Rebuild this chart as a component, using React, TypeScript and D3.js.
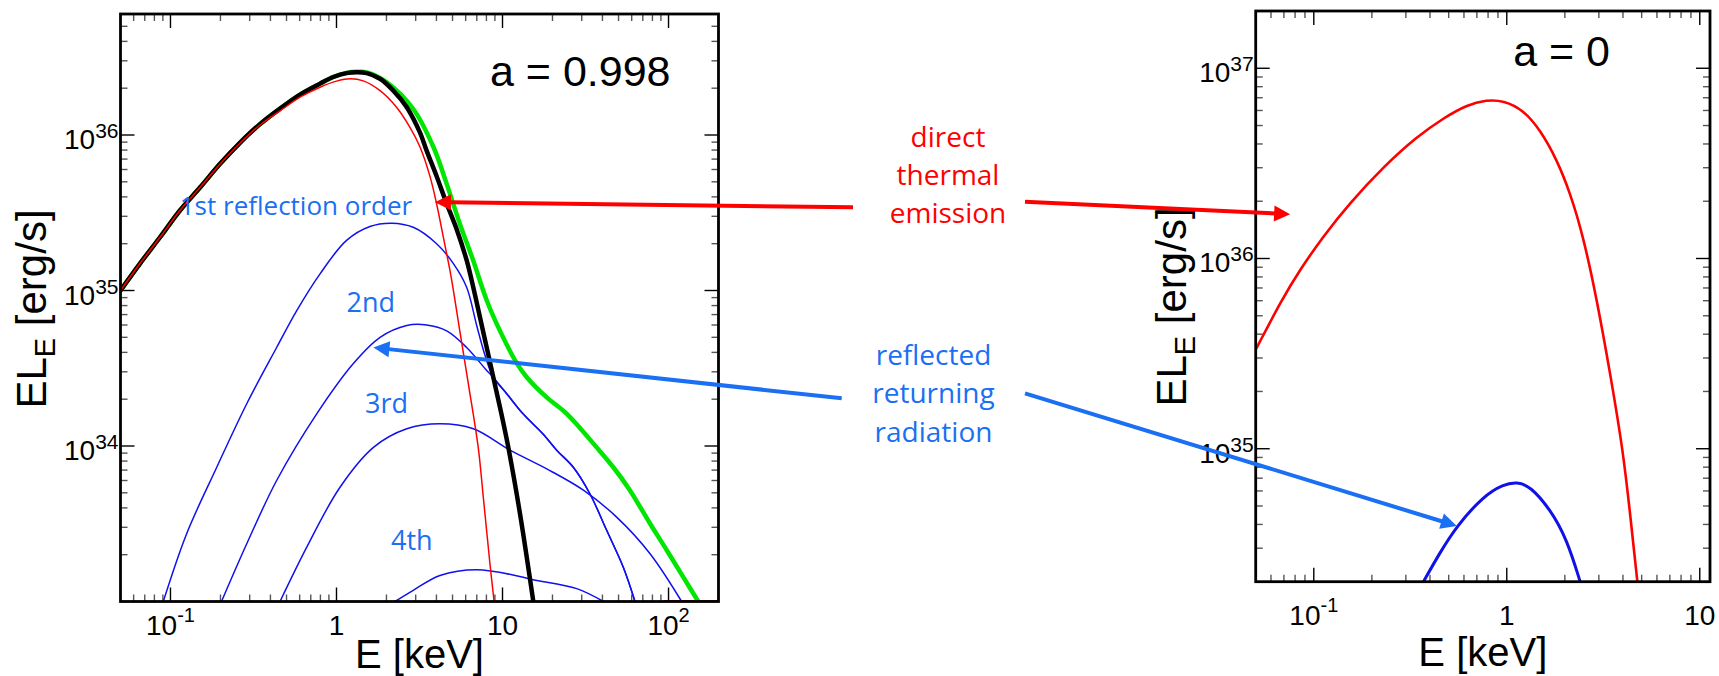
import React from 'react';
import * as d3 from 'd3';

type Pt = [number, number];

// ---------- Left panel (a = 0.998) : E [keV], EL_E [erg/s] ----------
const leftTotalWithReturn: Pt[] = [
  [0.05, 1.0e35], [0.0655, 1.49e35], [0.0865, 2.2e35], [0.114, 3.27e35], [0.151, 4.61e35],
  [0.199, 6.53e35], [0.262, 8.91e35], [0.346, 1.175e36], [0.457, 1.479e36], [0.603, 1.82e36],
  [0.796, 2.14e36], [0.957, 2.36e36], [1.15, 2.51e36], [1.32, 2.55e36], [1.52, 2.53e36],
  [2.0, 2.19e36], [2.9, 1.47e36], [3.83, 8.4e35], [4.61, 4.85e35], [5.53, 2.69e35],
  [6.66, 1.56e35], [8.05, 8.6e34], [9.66, 5.5e34], [12.2, 3.4e34], [14.0, 2.77e34],
  [18.4, 2.06e34], [24.4, 1.61e34], [36.9, 9.8e33], [46.5, 7.3e33], [58.5, 5.2e33],
  [77.5, 3.16e33], [97.8, 2.13e33], [123, 1.43e33], [151, 1.0e33],
];

const leftTotal: Pt[] = [
  [0.05, 1.0e35], [0.0655, 1.49e35], [0.0865, 2.2e35], [0.114, 3.27e35], [0.151, 4.61e35],
  [0.199, 6.53e35], [0.262, 8.91e35], [0.346, 1.175e36], [0.457, 1.479e36], [0.603, 1.82e36],
  [0.796, 2.14e36], [0.957, 2.36e36], [1.15, 2.5e36], [1.32, 2.53e36], [1.52, 2.5e36],
  [1.83, 2.3e36], [2.2, 1.93e36], [2.65, 1.51e36], [3.18, 1.04e36], [3.49, 7.94e35],
  [4.015, 5.41e35], [4.613, 3.61e35], [5.3, 2.47e35], [6.085, 1.56e35], [6.67, 1.045e35],
  [7.32, 6.7e34], [8.41, 3.44e34], [9.66, 1.77e34], [10.84, 9.8e33], [12.75, 3.66e33],
  [15.33, 1.0e33],
];

const leftDirect: Pt[] = [
  [0.05, 1.0e35], [0.0655, 1.49e35], [0.0865, 2.2e35], [0.114, 3.27e35], [0.151, 4.61e35],
  [0.199, 6.5e35], [0.262, 8.85e35], [0.346, 1.16e36], [0.457, 1.43e36], [0.603, 1.75e36],
  [0.796, 2.03e36], [1.0, 2.22e36], [1.21, 2.3e36], [1.45, 2.23e36], [1.83, 1.93e36],
  [2.3, 1.51e36], [2.77, 1.12e36], [3.18, 8.4e35], [3.66, 5.4e35], [4.01, 3.6e35],
  [4.44, 2.1e35], [4.9, 1.23e35], [5.53, 5.5e34], [6.23, 2.5e34], [7.14, 9.8e33],
  [7.66, 4.7e33], [8.4, 1.75e33], [8.9, 1.0e33],
];

const leftDirectFloor: Pt[] = [[95, 1.0e33], [200, 1.0e33]];

const leftReflection1: Pt[] = [
  [0.0905, 1.0e33], [0.125, 2.72e33], [0.19, 7.3e33], [0.288, 1.87e34], [0.436, 4.3e34],
  [0.575, 7.4e34], [0.796, 1.28e35], [1.15, 2.1e35], [1.59, 2.58e35], [2.15, 2.71e35],
  [2.9, 2.55e35], [4.01, 2.0e35], [5.06, 1.49e35], [6.08, 1.05e35], [6.99, 5.96e34],
  [7.85, 3.82e34], [8.8, 2.76e34], [10.6, 2.17e34], [13.3, 1.61e34], [17.6, 1.19e34],
  [21.2, 9.4e33], [26.7, 7.3e33], [33.6, 4.93e33], [42.4, 2.87e33], [53.4, 1.66e33],
  [62.8, 1.0e33],
];

const leftReflection2: Pt[] = [
  [0.203, 1.0e33], [0.288, 2.35e33], [0.436, 6.0e33], [0.76, 1.61e34], [1.26, 3.38e34],
  [1.83, 5.0e34], [2.65, 5.96e34], [3.49, 6.0e34], [4.61, 5.5e34], [6.08, 4.3e34],
  [8.03, 3.06e34], [8.8, 2.76e34], [10.6, 2.17e34], [13.3, 1.61e34], [17.6, 1.19e34],
  [21.2, 9.4e33], [26.7, 7.3e33], [33.6, 4.93e33], [42.4, 2.87e33], [53.4, 1.66e33],
  [62.8, 1.0e33],
];

const leftReflection3: Pt[] = [
  [0.457, 1.0e33], [0.661, 2.23e33], [1.05, 5.43e33], [1.67, 9.8e33], [2.65, 1.29e34],
  [4.2, 1.39e34], [6.67, 1.29e34], [11.1, 9.4e33], [19.3, 6.95e33], [30.7, 5.2e33],
  [48.7, 3.49e33], [77.4, 2.03e33], [120, 1.0e33],
];

const leftReflection4: Pt[] = [
  [2.25, 1.0e33], [2.9, 1.18e33], [4.2, 1.47e33], [7.0, 1.6e33], [12.7, 1.45e33],
  [15.3, 1.38e33], [28, 1.21e33], [40.5, 1.0e33],
];

// ---------- Right panel (a = 0) ----------
const rightDirect: Pt[] = [
  [0.05, 3.32e35], [0.0683, 6.08e35], [0.0849, 8.74e35], [0.112, 1.31e36], [0.154, 1.96e36],
  [0.23, 3.04e36], [0.342, 4.37e36], [0.47, 5.47e36], [0.621, 6.42e36], [0.787, 6.82e36],
  [0.96, 6.77e36], [1.22, 6.04e36], [1.49, 4.74e36], [1.82, 3.3e36], [2.13, 2.21e36],
  [2.49, 1.31e36], [2.93, 6.08e35], [3.43, 2.51e35], [4.02, 9.5e34], [4.35, 4.6e34],
  [4.75, 2.0e34],
];

const rightReflection: Pt[] = [
  [0.37, 2.0e34], [0.451, 2.85e34], [0.551, 3.93e34], [0.757, 5.64e34], [0.96, 6.5e34],
  [1.13, 6.68e34], [1.32, 6.37e34], [1.68, 4.8e34], [2.05, 3.34e34], [2.4, 2.0e34],
];

// ---------- Ticks ----------
const leftXTicks = [0.1, 1, 10, 100];
const leftXTickLabels: [string, string][] = [['10', '-1'], ['1', ''], ['10', ''], ['10', '2']];
const leftYTicks = [1e34, 1e35, 1e36];
const leftYTickLabels: [string, string][] = [['10', '34'], ['10', '35'], ['10', '36']];

const rightXTicks = [0.1, 1, 10];
const rightXTickLabels: [string, string][] = [['10', '-1'], ['1', ''], ['10', '']];
const rightYTicks = [1e35, 1e36, 1e37];
const rightYTickLabels: [string, string][] = [['10', '35'], ['10', '36'], ['10', '37']];

// ---------- Annotation anchors (data coordinates of the curves they point to) ----------
const thermalTipLeft: Pt = [3.92, 3.7e35];
const thermalTipRight: Pt = [0.0754, 1.71e36];
const returnTipLeft: Pt = [1.67, 4.3e34];
const returnTipRight: Pt = [0.551, 3.93e34];

const orderLabels = ['1st reflection order', '2nd', '3rd', '4th'];
const orderLabelPos: Pt[] = [[0.57, 3.08e35], [1.61, 7.3e34], [2.0, 1.62e34], [2.84, 2.13e33]];

const thermalText = ['direct', 'thermal', 'emission'];
const returnText = ['reflected', 'returning', 'radiation'];

// ---------- Layout ----------
const W = 1719;
const H = 676;
const leftFrame = { left: 120.5, right: 718.5, top: 14, bottom: 601.5 };
const rightFrame = { left: 1255.7, right: 1710, top: 11, bottom: 581.7 };

const AX_FONT = "'Liberation Sans', Arial, Helvetica, sans-serif";
const NOTE_FONT = "'Open Sans', 'Noto Sans', sans-serif";
const RED = '#ff0000';
const NOTE_BLUE = '#1a6ff2';

type Frame = typeof leftFrame;

function makeScales(f: Frame, xd: [number, number], yd: [number, number]) {
  const x = d3.scaleLog().domain(xd).range([f.left, f.right]);
  const y = d3.scaleLog().domain(yd).range([f.bottom, f.top]);
  return { x, y };
}

interface Series { data: Pt[]; color: string; width: number }

interface PanelProps {
  id: string;
  f: Frame;
  sx: d3.ScaleLogarithmic<number, number>;
  sy: d3.ScaleLogarithmic<number, number>;
  xTicks: number[];
  xLabels: [string, string][];
  yTicks: number[];
  yLabels: [string, string][];
  series: Series[];
  curve: d3.CurveFactory;
  xLabelBase: number;
  xTitleBase: number;
  yTitleX: number;
  yTitleCY: number;
  tag: string;
  tagRightGap: number;
  tagBase: number;
}

function isMajor(v: number) {
  const l = Math.log10(v);
  return Math.abs(l - Math.round(l)) < 1e-6;
}

function Panel(p: PanelProps) {
  const { f, sx, sy } = p;
  const line = d3
    .line<Pt>()
    .x((d) => sx(d[0]))
    .y((d) => sy(d[1]))
    .curve(p.curve);
  const xMinor = sx.ticks().filter((v) => {
    const px = sx(v);
    return px > f.left + 1 && px < f.right - 1;
  });
  const yMinor = sy.ticks().filter((v) => {
    const py = sy(v);
    return py > f.top + 1 && py < f.bottom - 1;
  });
  const MAJ = 14;
  const MIN = 7;
  const cx = (f.left + f.right) / 2;
  return (
    <g>
      <defs>
        <clipPath id={p.id}>
          <rect x={f.left} y={f.top} width={f.right - f.left} height={f.bottom - f.top} />
        </clipPath>
      </defs>
      {xMinor.map((v, i) => {
        const px = sx(v);
        const L = isMajor(v) ? MAJ : MIN;
        const c = isMajor(v) ? '#000' : '#555';
        return (
          <g key={'xt' + i} stroke={c} strokeWidth={1.4}>
            <line x1={px} x2={px} y1={f.bottom} y2={f.bottom - L} />
            <line x1={px} x2={px} y1={f.top} y2={f.top + L} />
          </g>
        );
      })}
      {yMinor.map((v, i) => {
        const py = sy(v);
        const L = isMajor(v) ? MAJ : MIN;
        const c = isMajor(v) ? '#000' : '#555';
        return (
          <g key={'yt' + i} stroke={c} strokeWidth={1.4}>
            <line x1={f.left} x2={f.left + L} y1={py} y2={py} />
            <line x1={f.right} x2={f.right - L} y1={py} y2={py} />
          </g>
        );
      })}
      <g clipPath={`url(#${p.id})`} fill="none" strokeLinejoin="round" strokeLinecap="round">
        {p.series.map((s, i) => (
          <path key={'s' + i} d={line(s.data) || ''} stroke={s.color} strokeWidth={s.width} />
        ))}
      </g>
      <rect
        x={f.left}
        y={f.top}
        width={f.right - f.left}
        height={f.bottom - f.top}
        fill="none"
        stroke="#000"
        strokeWidth={2.8}
      />
      {p.xTicks.map((v, i) => (
        <text
          key={'xl' + i}
          x={sx(v)}
          y={p.xLabelBase}
          textAnchor="middle"
          fontFamily={AX_FONT}
          fontSize={28}
          fill="#000"
        >
          {p.xLabels[i][0]}
          {p.xLabels[i][1] ? (
            <tspan dy={-13} fontSize={20}>
              {p.xLabels[i][1]}
            </tspan>
          ) : null}
        </text>
      ))}
      {p.yTicks.map((v, i) => (
        <text
          key={'yl' + i}
          x={f.left - 2}
          y={sy(v) + 14}
          textAnchor="end"
          fontFamily={AX_FONT}
          fontSize={28}
          fill="#000"
        >
          {p.yLabels[i][0]}
          <tspan dy={-11} fontSize={21}>
            {p.yLabels[i][1]}
          </tspan>
        </text>
      ))}
      <text x={cx} y={p.xTitleBase} textAnchor="middle" fontFamily={AX_FONT} fontSize={40} fill="#000">
        E [keV]
      </text>
      <text
        transform={`translate(${p.yTitleX},${p.yTitleCY}) rotate(-90)`}
        textAnchor="middle"
        fontFamily={AX_FONT}
        fontSize={42}
        fill="#000"
      >
        EL
        <tspan dy={9} fontSize={29}>
          E
        </tspan>
        <tspan dy={-9}> [erg/s]</tspan>
      </text>
      <text
        x={f.right - p.tagRightGap}
        y={f.top + p.tagBase}
        textAnchor="end"
        fontFamily={AX_FONT}
        fontSize={43}
        fill="#000"
      >
        {p.tag}
      </text>
    </g>
  );
}

function Arrow(props: { x1: number; y1: number; x2: number; y2: number; color: string; width: number; head: number; half: number }) {
  const { x1, y1, x2, y2, color, width, head, half } = props;
  const dx = x2 - x1;
  const dy = y2 - y1;
  const len = Math.hypot(dx, dy);
  const ux = dx / len;
  const uy = dy / len;
  const bx = x2 - ux * head;
  const by = y2 - uy * head;
  const px = -uy;
  const py = ux;
  return (
    <g>
      <line x1={x1} y1={y1} x2={bx + ux} y2={by + uy} stroke={color} strokeWidth={width} />
      <polygon
        points={`${x2},${y2} ${bx + px * half},${by + py * half} ${bx - px * half},${by - py * half}`}
        fill={color}
      />
    </g>
  );
}

export default function App() {
  const L = makeScales(leftFrame, [0.05, 200], [1e33, 6e36]);
  const R = makeScales(rightFrame, [0.05, 11.3], [2e34, 2e37]);

  const leftSeries: Series[] = [
    { data: leftTotalWithReturn, color: '#00e600', width: 4.5 },
    { data: leftReflection1, color: '#1010f0', width: 1.5 },
    { data: leftReflection2, color: '#1010f0', width: 1.5 },
    { data: leftReflection3, color: '#1010f0', width: 1.5 },
    { data: leftReflection4, color: '#1010f0', width: 1.5 },
    { data: leftTotal, color: '#000000', width: 4.5 },
    { data: leftDirect, color: RED, width: 1.5 },
    { data: leftDirectFloor, color: RED, width: 3 },
  ];
  const rightSeries: Series[] = [
    { data: rightDirect, color: RED, width: 2.6 },
    { data: rightReflection, color: '#1010e8', width: 3 },
  ];

  const thermalCX = 948;
  const thermalBase = 146.5;
  const returnCX = 933.5;
  const returnBase = 365;
  const lineStep = 38.3;

  return (
    <svg
      width={W}
      height={H}
      viewBox={`0 0 ${W} ${H}`}
      style={{ position: 'absolute', left: 0, top: 0, background: '#fff' }}
    >
      <rect x={0} y={0} width={W} height={H} fill="#fff" />
      <Panel
        id="clipL"
        f={leftFrame}
        sx={L.x}
        sy={L.y}
        xTicks={leftXTicks}
        xLabels={leftXTickLabels}
        yTicks={leftYTicks}
        yLabels={leftYTickLabels}
        series={leftSeries}
        curve={d3.curveCatmullRom.alpha(0.5)}
        xLabelBase={635}
        xTitleBase={668}
        yTitleX={46}
        yTitleCY={309}
        tag="a = 0.998"
        tagRightGap={48}
        tagBase={72}
      />
      <Panel
        id="clipR"
        f={rightFrame}
        sx={R.x}
        sy={R.y}
        xTicks={rightXTicks}
        xLabels={rightXTickLabels}
        yTicks={rightYTicks}
        yLabels={rightYTickLabels}
        series={rightSeries}
        curve={d3.curveBasis}
        xLabelBase={625}
        xTitleBase={666}
        yTitleX={1186}
        yTitleCY={307}
        tag="a = 0"
        tagRightGap={100}
        tagBase={55}
      />

      {orderLabels.map((t, i) => (
        <text
          key={'ol' + i}
          x={L.x(orderLabelPos[i][0])}
          y={L.y(orderLabelPos[i][1])}
          textAnchor="middle"
          fontFamily={NOTE_FONT}
          fontSize={i === 0 ? 26 : 27}
          fill={NOTE_BLUE}
        >
          {t}
        </text>
      ))}

      {thermalText.map((t, i) => (
        <text
          key={'tt' + i}
          x={thermalCX}
          y={thermalBase + i * lineStep}
          textAnchor="middle"
          fontFamily={NOTE_FONT}
          fontSize={28}
          fill={RED}
        >
          {t}
        </text>
      ))}
      {returnText.map((t, i) => (
        <text
          key={'rt' + i}
          x={returnCX}
          y={returnBase + i * lineStep}
          textAnchor="middle"
          fontFamily={NOTE_FONT}
          fontSize={28}
          fill={NOTE_BLUE}
        >
          {t}
        </text>
      ))}

      <Arrow x1={853} y1={207.3} x2={L.x(thermalTipLeft[0])} y2={L.y(thermalTipLeft[1])} color={RED} width={4} head={16} half={8} />
      <Arrow x1={1025} y1={201.7} x2={R.x(thermalTipRight[0])} y2={R.y(thermalTipRight[1])} color={RED} width={4} head={16} half={8} />
      <Arrow x1={841.7} y1={398.3} x2={L.x(returnTipLeft[0])} y2={L.y(returnTipLeft[1])} color={NOTE_BLUE} width={4} head={16} half={8} />
      <Arrow x1={1025} y1={393.3} x2={R.x(returnTipRight[0])} y2={R.y(returnTipRight[1])} color={NOTE_BLUE} width={4} head={16} half={8} />
    </svg>
  );
}
